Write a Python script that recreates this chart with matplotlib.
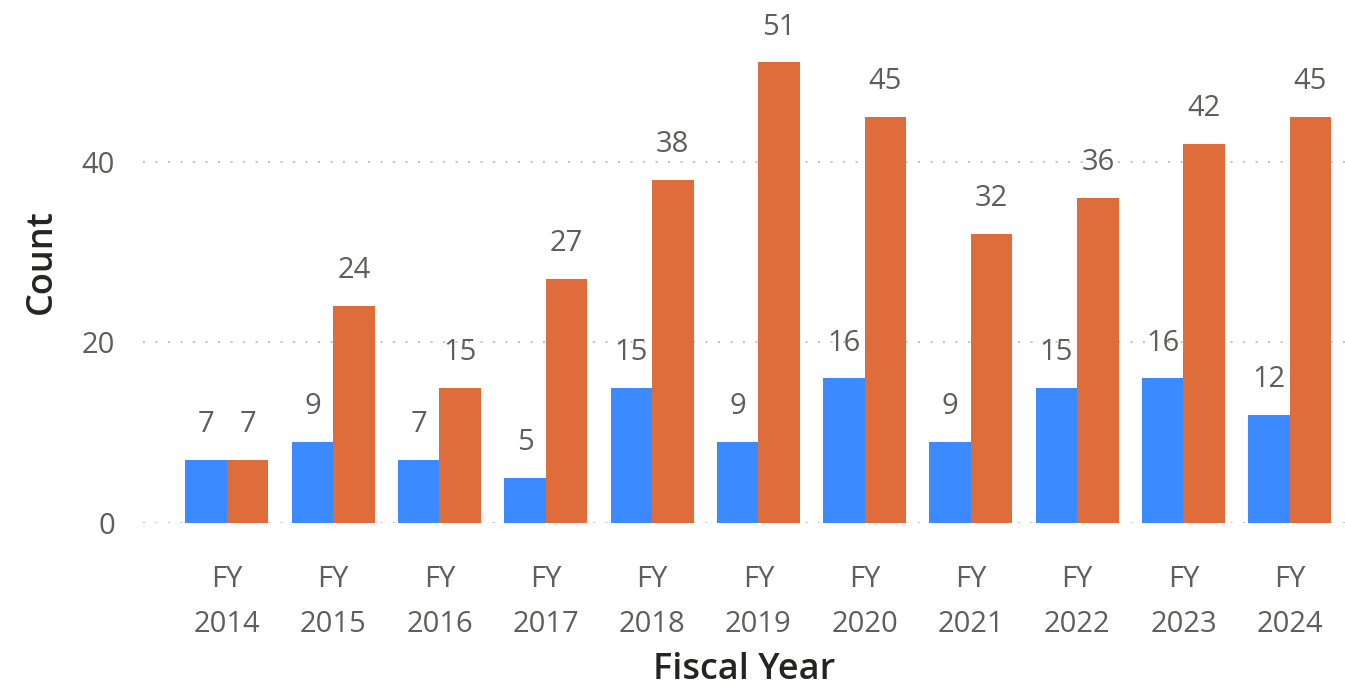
import matplotlib
matplotlib.use("Agg")
import matplotlib.pyplot as plt
import numpy as np

years = ["FY\n2014", "FY\n2015", "FY\n2016", "FY\n2017", "FY\n2018", "FY\n2019",
         "FY\n2020", "FY\n2021", "FY\n2022", "FY\n2023", "FY\n2024"]
series_a = [7, 9, 7, 5, 15, 9, 16, 9, 15, 16, 12]
series_b = [7, 24, 15, 27, 38, 51, 45, 32, 36, 42, 45]

plt.rcParams['font.family'] = ['Open Sans', 'DejaVu Sans']

fig = plt.figure(figsize=(13.45, 6.86), dpi=100, facecolor="white")
ax = fig.add_axes([0.1063, 0.2376, 0.8937, 0.761])

x = np.arange(len(years))
w = 0.39
bars_a = ax.bar(x - w / 2, series_a, w, color="#3C8AFF")
bars_b = ax.bar(x + w / 2, series_b, w, color="#DE6D3B")

for bars in (bars_a, bars_b):
    ax.bar_label(bars, padding=15, fontsize=21, color="#605E5C")

ax.set_xlim(-0.79, 10.52)
ax.set_ylim(0, 57.8)
ax.set_yticks([0, 20, 40])
ax.set_xticks(x)
ax.set_xticklabels(years, linespacing=1.75)
ax.tick_params(axis="y", length=0, pad=20, labelsize=21, labelcolor="#605E5C")
ax.tick_params(axis="x", length=0, pad=30, labelsize=21, labelcolor="#605E5C")

ax.grid(axis="y", linestyle=(0, (1, 5)), color="#C8C6C4", linewidth=1.5)
ax.set_axisbelow(True)
for s in ax.spines.values():
    s.set_visible(False)

ax.set_ylabel("Count", fontsize=26, color="#252423", fontweight="semibold", labelpad=16)
ax.set_xlabel("Fiscal Year", fontsize=26, color="#252423", fontweight="semibold", labelpad=9)

fig.savefig("out.png", dpi=100, facecolor="white")
